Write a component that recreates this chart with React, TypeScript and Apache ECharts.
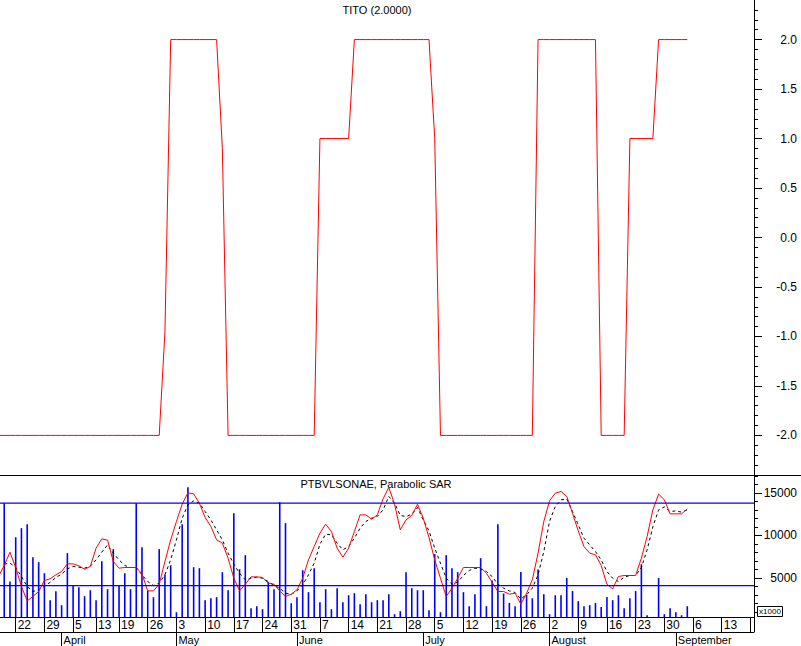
import React, { useEffect, useRef } from 'react';
import * as echarts from 'echarts';

// trading-day index of the first value in every series (0 = 22 March)
const START_INDEX = -3;
const X_MIN = -2.735;
const X_MAX = 128.62;

const titoValues = [
  -2, -2, -2, -2, -2, -2, -2, -2, -2, -2,
  -2, -2, -2, -2, -2, -2, -2, -2, -2, -2,
  -2, -2, -2, -2, -2, -2, -2, -2, -2,
  -0.95,
  2, 2, 2, 2, 2, 2, 2, 2, 2,
  0.9,
  -2, -2, -2, -2, -2, -2, -2, -2, -2, -2, -2, -2, -2, -2, -2, -2,
  1, 1, 1, 1, 1, 1,
  2, 2, 2, 2, 2, 2, 2, 2, 2, 2, 2, 2, 2, 2,
  1,
  -2, -2, -2, -2, -2, -2, -2, -2, -2, -2, -2, -2, -2, -2, -2, -2, -2,
  2, 2, 2, 2, 2, 2, 2, 2, 2, 2, 2,
  -2, -2, -2, -2, -2,
  1, 1, 1, 1, 1,
  2, 2, 2, 2, 2, 2,
];

const volumeValues = [
  null, 13790, 4580, 9790, 10850, 11320, 7440, 6850, 5550, 2380,
  3430, 1790, 7910, 4100, 3900, 2850, 3550, 2380, 6960, 3670,
  8380, 4140, 5550, 3670, 13790, 8610, 3510, 2730, 8380, 5360,
  6490, 960, 11320, 15670, 6260, 6140, 2380, 2610, 2730, 5670,
  3550, 12610, 6020, 7670, 1430, 1670, 1320, 4500, 3670, 13900,
  11440, 2020, 2730, 5900, 3320, 6140, 2140, 3670, 1320, 3790,
  2140, 2960, 3200, 1900, 3080, 2140, 2380, 2380, 3080, 730,
  1080, 5670, 3790, 3550, 3550, 1200, 7790, 960, 7670, 6140,
  5670, 3320, 1670, 3080, 7320, 1670, 4700, 11320, 3160, 2060,
  1670, 5690, 3000, 2600, 6000, 3080, 730, 2960, 2960, 4980,
  3450, 2260, 1670, 1790, 2040, 1570, 2750, 2380, 2960, 1430,
  2610, 3450, 6610, 610, 0, 4980, 730, 1430, 960, 610,
  1670,
];

const priceValues = [
  5160, 6460, 8020, 6220, 3990, 2300, 2810, 3400, 4690, 4890,
  5360, 5750, 6650, 6650, 6420, 6020, 6340, 8490, 9590, 9440,
  6930, 6140, 6220, 6220, 6220, 5470, 3470, 3470, 4260, 6930,
  9470, 11630, 13670, 15000, 14880, 13790, 12100, 11050, 9470, 9080,
  7320, 4960, 3470, 4260, 5120, 5120, 5050, 4380, 4260, 3470,
  2810, 3080, 3590, 4960, 7120, 8690, 10260, 11320, 10460, 8490,
  7440, 8490, 10460, 12410, 12410, 11900, 12410, 14290, 15640, 13670,
  10650, 11820, 12340, 13670, 12020, 9750, 7120, 4960, 2810, 3790,
  4960, 6220, 6220, 6220, 6220, 5550, 4490, 3400, 3400, 3080,
  3200, 1900, 3200, 4770, 7910, 11630, 14060, 14960, 15160, 14580,
  12610, 10530, 8690, 7910, 7710, 6460, 4260, 3710, 5160, 5280,
  5280, 5280, 7320, 9870, 13000, 14850, 14180, 12530, 12530, 12530,
  13120,
];

const sarValues = [
  null, 6610, 6730, 6220, 5160, 3990, 3400, 3590, 3990, 4490,
  5050, 5440, 6060, 6340, 6260, 6140, 6380, 7120, 8020, 8880,
  7910, 7120, 6460, 6220, 6220, 5360, 4570, 4100, 4380, 5360,
  7120, 9470, 12020, 13590, 14060, 13790, 12810, 11820, 10650, 9470,
  7910, 6610, 5550, 4770, 4960, 5080, 4960, 4570, 4100, 3790,
  3200, 3080, 3470, 4180, 5360, 6730, 8960, 10140, 10060, 9080,
  8300, 8690, 9670, 10850, 11630, 12020, 12220, 13000, 14580, 13790,
  12340, 12220, 12490, 13280, 11820, 10530, 8490, 6730, 4960, 4260,
  4490, 5280, 5870, 6140, 6060, 5750, 5160, 4260, 3790, 3470,
  3280, 2530, 3000, 3790, 5360, 8100, 11630, 13400, 14180, 14290,
  12810, 11240, 9670, 8880, 8100, 7120, 5750, 4960, 4570, 5080,
  5280, 5280, 6220, 8300, 11000, 13000, 13350, 12810, 12880, 12730,
  13000,
];

const thresholdLevels = [4100, 13800];

const weekTicks = [0, 5, 10, 14, 18, 23, 28, 33, 38, 43, 48, 53, 58, 63, 68, 73, 78, 83, 88, 93, 98, 103, 108, 113, 118, 123, 128];
const weekLabels = ['22', '29', '5', '13', '19', '26', '3', '10', '17', '24', '31', '7', '14', '21', '28', '5', '12', '19', '26', '2', '9', '16', '23', '30', '6', '13', ''];
const monthTicks = [8, 28, 49, 71, 93, 115];
const monthLabels = ['April', 'May', 'June', 'July', 'August', 'September'];

const titoMajorTicks = [-2, -1.5, -1, -0.5, 0, 0.5, 1, 1.5, 2];
const titoMinorTicks = [-2.3, -2.2, -2.1, -2, -1.9, -1.8, -1.7, -1.6, -1.5, -1.4, -1.3, -1.2, -1.1, -1, -0.9, -0.8, -0.7, -0.6, -0.5, -0.4, -0.3, -0.2, -0.1, 0, 0.1, 0.2, 0.3, 0.4, 0.5, 0.6, 0.7, 0.8, 0.9, 1, 1.1, 1.2, 1.3, 1.4, 1.5, 1.6, 1.7, 1.8, 1.9, 2, 2.1, 2.2, 2.3];
const volMajorTicks = [5000, 10000, 15000];
const volMinorTicks = [1000, 2000, 3000, 4000, 5000, 6000, 7000, 8000, 9000, 10000, 11000, 12000, 13000, 14000, 15000, 16000, 17000];

const FONT = 'Liberation Sans, Arial, sans-serif';

function pairs(values: (number | null)[]) {
  return values.map((v, k) => [k + START_INDEX, v === null ? '-' : v]);
}

export default function App() {
  const ref = useRef<HTMLDivElement>(null);
  useEffect(() => {
    const chart = echarts.init(ref.current!, null, { renderer: 'svg' });
    const black = { color: '#000', width: 1 };
    const levelSeries = thresholdLevels.map((level, k) => ({
      type: 'line', name: 'Level ' + (k + 1), xAxisIndex: 1, yAxisIndex: 2, z: 10,
      data: [[X_MIN, level], [X_MAX, level]], showSymbol: false, symbol: 'none', silent: true,
      color: '#0000ff',
      lineStyle: { color: '#0000ff', width: 1.2, type: 'solid', opacity: 1 }, itemStyle: { color: '#0000ff' },
      emphasis: { disabled: true },
    }));
    const option: any = {
      animation: false,
      backgroundColor: '#ffffff',
      textStyle: { fontFamily: FONT, color: '#000' },
      grid: [
        { left: 0, top: 0, width: 754, height: 475, outerBoundsMode: 'none', containLabel: false },
        { left: 0, top: 475, width: 754, height: 142, outerBoundsMode: 'none', containLabel: false },
      ],
      xAxis: [
        { gridIndex: 0, type: 'value', min: X_MIN, max: X_MAX, show: false },
        {
          gridIndex: 1, type: 'value', min: X_MIN, max: X_MAX, position: 'bottom',
          axisLine: { show: true, onZero: false, lineStyle: black },
          axisTick: { show: true, customValues: weekTicks, length: 15, lineStyle: black },
          axisLabel: {
            show: true, customValues: weekTicks, hideOverlap: false,
            formatter: (v: number) => weekLabels[weekTicks.indexOf(Math.round(v))] ?? '',
            align: 'left', margin: 2, padding: [0, 0, 0, 2], fontSize: 12, color: '#000', fontFamily: FONT,
          },
          splitLine: { show: false },
        },
        {
          gridIndex: 1, type: 'value', min: X_MIN, max: X_MAX, position: 'bottom', offset: 15,
          axisLine: { show: true, onZero: false, lineStyle: black },
          axisTick: { show: true, customValues: monthTicks, length: 14, lineStyle: black },
          axisLabel: {
            show: true, customValues: monthTicks, hideOverlap: false,
            formatter: (v: number) => monthLabels[monthTicks.indexOf(Math.round(v))] ?? '',
            align: 'left', margin: 2, padding: [0, 0, 0, 2], fontSize: 11, color: '#000', fontFamily: FONT,
          },
          splitLine: { show: false },
        },
      ],
      yAxis: [
        {
          gridIndex: 0, type: 'value', position: 'right', min: -2.4, max: 2.4,
          axisLine: { show: true, onZero: false, lineStyle: black },
          axisTick: { show: true, customValues: titoMajorTicks, length: 8, lineStyle: black },
          axisLabel: {
            show: true, customValues: titoMajorTicks, formatter: (v: number) => v.toFixed(1),
            align: 'right', margin: 43, fontSize: 12, color: '#000', fontFamily: FONT,
          },
          splitLine: { show: false },
        },
        {
          gridIndex: 0, type: 'value', position: 'right', min: -2.4, max: 2.4,
          axisLine: { show: false, onZero: false },
          axisTick: { show: true, customValues: titoMinorTicks, length: 4, lineStyle: black },
          axisLabel: { show: false },
          splitLine: { show: false },
        },
        {
          gridIndex: 1, type: 'value', position: 'right', min: 400, max: 17100,
          axisLine: { show: true, onZero: false, lineStyle: black },
          axisTick: { show: true, customValues: volMajorTicks, length: 8, lineStyle: black },
          axisLabel: {
            show: true, customValues: volMajorTicks, formatter: (v: number) => String(v),
            align: 'right', margin: 43, fontSize: 12, color: '#000', fontFamily: FONT,
          },
          splitLine: { show: false },
        },
        {
          gridIndex: 1, type: 'value', position: 'right', min: 400, max: 17100,
          axisLine: { show: false, onZero: false },
          axisTick: { show: true, customValues: volMinorTicks, length: 4, lineStyle: black },
          axisLabel: { show: false },
          splitLine: { show: false },
        },
      ],
      series: [
        {
          type: 'line', name: 'TITO', xAxisIndex: 0, yAxisIndex: 0,
          data: pairs(titoValues), showSymbol: false, symbol: 'none',
          lineStyle: { color: '#ff0000', width: 1 }, itemStyle: { color: '#ff0000' },
        },
        {
          type: 'bar', name: 'Volume', xAxisIndex: 1, yAxisIndex: 2,
          data: pairs(volumeValues), barWidth: 1.6, itemStyle: { color: '#0000ff' },
        },
        ...levelSeries,
        {
          type: 'line', name: 'SAR', xAxisIndex: 1, yAxisIndex: 2,
          data: pairs(sarValues), showSymbol: false, symbol: 'none',
          lineStyle: { color: '#000000', width: 1, type: [3, 3] },
        },
        {
          type: 'line', name: 'PTBVLSONAE', xAxisIndex: 1, yAxisIndex: 2,
          data: pairs(priceValues), showSymbol: false, symbol: 'none',
          lineStyle: { color: '#ff0000', width: 1 },
        },
      ],
      graphic: [
        { type: 'line', shape: { x1: 0, y1: 475.5, x2: 801, y2: 475.5 }, style: { stroke: '#000', lineWidth: 1 } },
        { type: 'line', shape: { x1: 754.5, y1: 617, x2: 754.5, y2: 632 }, style: { stroke: '#000', lineWidth: 1 } },
        {
          type: 'text', x: 377, y: 10,
          style: { text: 'TITO (2.0000)', fill: '#000', font: `11px ${FONT}`, textAlign: 'center', textVerticalAlign: 'middle' },
        },
        {
          type: 'text', x: 376, y: 484,
          style: { text: 'PTBVLSONAE, Parabolic SAR', fill: '#000', font: `11px ${FONT}`, textAlign: 'center', textVerticalAlign: 'middle' },
        },
        { type: 'rect', shape: { x: 757.5, y: 606.5, width: 25, height: 10 }, style: { fill: 'none', stroke: '#000', lineWidth: 1 } },
        {
          type: 'text', x: 770, y: 611.5,
          style: { text: 'x1000', fill: '#000', font: `8px ${FONT}`, textAlign: 'center', textVerticalAlign: 'middle' },
        },
      ],
    };
    chart.setOption(option);
    return () => chart.dispose();
  }, []);
  return (
    <div
      ref={ref}
      style={{ position: 'fixed', left: 0, top: 0, width: 801, height: 646, background: '#fff' }}
    />
  );
}
